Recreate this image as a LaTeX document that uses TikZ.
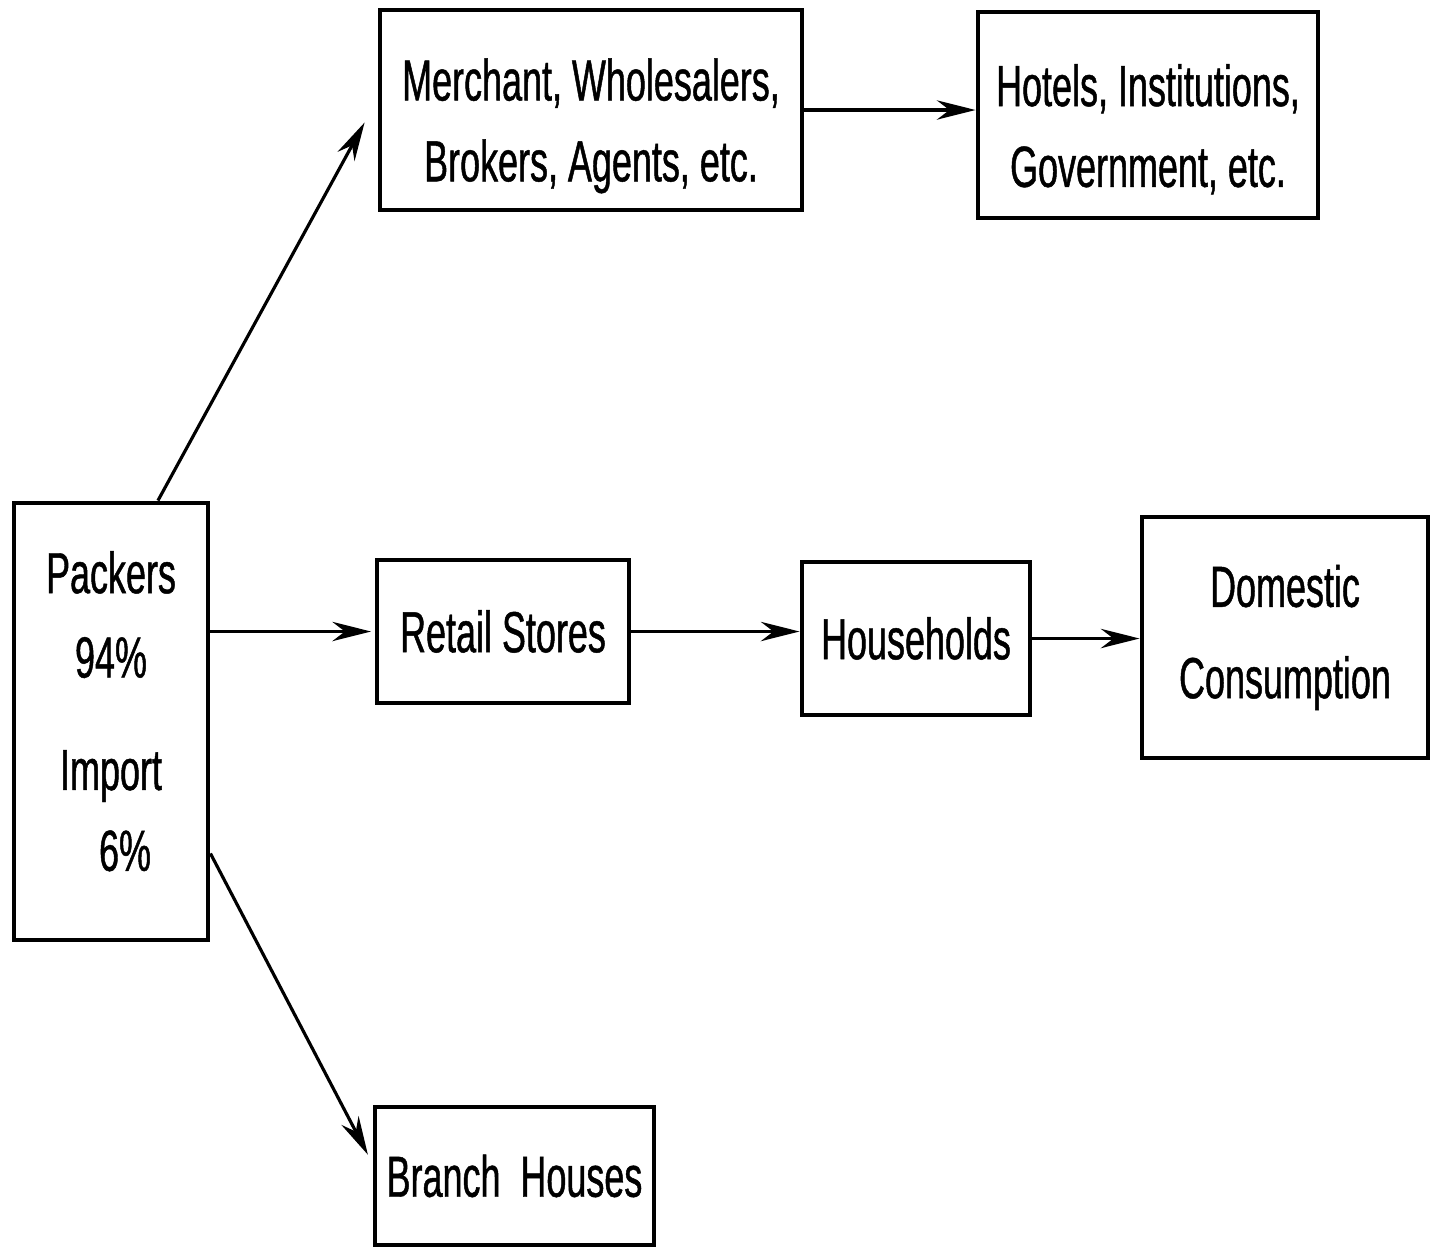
\documentclass[tikz,border=0pt]{standalone}
\usepackage{fontspec}
\usepackage{tikz}
\usetikzlibrary{arrows.meta}
\newfontfamily\boxfont[FakeStretch=0.62,FakeBold=0.8]{Liberation Sans}

\begin{document}
\begin{tikzpicture}[
    box/.style={draw,line width=1.4pt,inner sep=0pt,align=center,
      font=\boxfont\fontsize{16.5pt}{23pt}\selectfont},
    arr/.style={-{Stealth[length=11pt,width=5.5pt]},line width=0.9pt}]
    \useasboundingbox (0,0) rectangle (14.31,-12.49);

    \node[box,minimum width=1.94cm,minimum height=4.37cm] (packers) at (1.11,-7.215)
      {Packers\\[1pt]94\%\\[9pt]Import\\\hspace*{8pt}6\%\rule[-6pt]{0pt}{6pt}};
    \node[box,minimum width=4.22cm,minimum height=2.00cm] (merchant) at (5.91,-1.10)
      {\rule{0pt}{21pt}Merchant, Wholesalers,\\Brokers, Agents, etc.};
    \node[box,minimum width=3.40cm,minimum height=2.06cm] (hotels) at (11.48,-1.15)
      {\rule{0pt}{20pt}Hotels, Institutions,\\Government, etc.};
    \node[box,minimum width=2.52cm,minimum height=1.43cm] (retail) at (5.03,-6.315) {Retail Stores};
    \node[box,minimum width=2.28cm,minimum height=1.53cm] (households) at (9.16,-6.385) {Households};
    \node[box,minimum width=2.86cm,minimum height=2.41cm] (domestic) at (12.85,-6.375)
      {Domestic\\[3pt]Consumption};
    \node[box,minimum width=2.79cm,minimum height=1.38cm] (branch) at (5.145,-11.76) {Branch\ \ Houses};

    \path[arr]
    (packers.78) edge [shorten >=0.27cm] (merchant.177)
    (merchant.east) edge (merchant.east -| hotels.west)
    (retail.west -| packers.east) edge [shorten >=1pt] (retail.west)
    (retail.east) edge (retail.east -| households.west)
    (households.east) edge (households.east -| domestic.west)
    (packers.-53) edge [shorten >=0.1cm] (branch.175)
    ;
  \end{tikzpicture}
\end{document}
